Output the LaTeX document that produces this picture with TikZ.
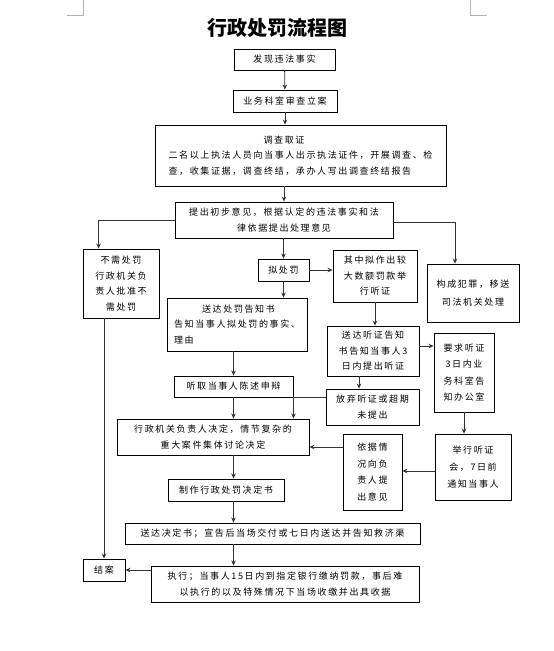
\documentclass[tikz,border=0pt]{standalone}
\usepackage{fontspec}
\setmainfont{Noto Sans CJK SC}[LetterSpace=18]
\newfontfamily\titlefont{Noto Sans CJK SC}
\usetikzlibrary{arrows.meta,calc}

\tikzset{
  flowbox/.style={draw=black, line width=0.9pt, inner sep=0pt, align=center,
    font=\fontsize{9}{15.5}\selectfont},
  flowarrow/.style={draw=black!80, line width=0.8pt, -{Stealth[length=5pt,width=4.5pt]}},
  cropmark/.style={draw=black!30, line width=0.6pt},
}

\begin{document}
\begin{tikzpicture}[x=1pt,y=-1pt]
  \useasboundingbox (0,0) rectangle (554,651);

  % Titel und Eckmarken
  \node (title) at (277,28) {\titlefont\fontsize{20}{24}\selectfont\bfseries 行政处罚流程图};
  \draw[cropmark] (83,0) -- (83,15) -- (67,15);
  \draw[cropmark] (470,0) -- (470,15) -- (487,15);

  % Kaesten
  \node[flowbox, minimum width=101pt, minimum height=21pt] (fact) at (284.5,59.5) {发现违法事实};
  \node[flowbox, minimum width=104pt, minimum height=22pt] (filing) at (285,101) {业务科室审查立案};
  \node[flowbox, minimum width=291pt, minimum height=61pt, align=left] (survey) at (300.5,155.5)
    {\hspace*{95pt}调查取证\\二名以上执法人员向当事人出示执法证件，开展调查、检\\查，收集证据，调查终结，承办人写出调查终结报告};
  \node[flowbox, minimum width=218pt, minimum height=36pt] (opinion) at (284,220)
    {提出初步意见，根据认定的违法事实和法\\律依据提出处理意见};
  \node[flowbox, minimum width=76pt, minimum height=69pt] (nopen) at (121,283.5)
    {不需处罚\\行政机关负\\责人批准不\\需处罚};
  \node[flowbox, minimum width=51pt, minimum height=22pt] (pen) at (283.5,270) {拟处罚};
  \node[flowbox, minimum width=84pt, minimum height=52pt] (large) at (375,276)
    {其中拟作出较\\大数额罚款举\\行听证};
  \node[flowbox, minimum width=92pt, minimum height=58pt,
    font=\fontsize{9}{18}\selectfont] (crime) at (473,293) {构成犯罪，移送\\司法机关处理};
  \node[flowbox, minimum width=140pt, minimum height=53pt, align=left] (notice) at (237,324.5)
    {\hspace*{28pt}送达处罚告知书\\告知当事人拟处罚的事实、\\理由};
  \node[flowbox, minimum width=92pt, minimum height=50pt] (hearnot) at (373,351)
    {送达听证告知\\书告知当事人3\\日内提出听证};
  \node[flowbox, minimum width=60pt, minimum height=79pt,
    font=\fontsize{9}{16.5}\selectfont] (request) at (464,372.5)
    {要求听证\\3日内业\\务科室告\\知办公室};
  \node[flowbox, minimum width=119pt, minimum height=21pt] (defense) at (233.5,386.5) {听取当事人陈述申辩};
  \node[flowbox, minimum width=93pt, minimum height=36pt] (waive) at (372.5,407)
    {放弃听证或超期\\未提出};
  \node[flowbox, minimum width=192pt, minimum height=36pt] (decide) at (213,437)
    {行政机关负责人决定，情节复杂的\\重大案件集体讨论决定};
  \node[flowbox, minimum width=76pt, minimum height=66pt,
    font=\fontsize{9}{17}\selectfont] (hold) at (473,467)
    {举行听证\\会，7日前\\通知当事人};
  \node[flowbox, minimum width=59pt, minimum height=76pt,
    font=\fontsize{9}{16.5}\selectfont] (report) at (372.5,472)
    {依据情\\况向负\\责人提\\出意见};
  \node[flowbox, minimum width=116pt, minimum height=22pt] (draft) at (226,490) {制作行政处罚决定书};
  \node[flowbox, minimum width=295pt, minimum height=21pt] (deliver) at (272.5,533.5)
    {送达决定书；宣告后当场交付或七日内送达并告知救济渠};
  \node[flowbox, minimum width=268pt, minimum height=36pt] (execute) at (285,584)
    {执行；当事人15日内到指定银行缴纳罚款，事后难\\以执行的以及特殊情况下当场收缴并出具收据};
  \node[flowbox, minimum width=42pt, minimum height=22pt] (close) at (104,570) {结案};

  % Pfeile
  \draw[flowarrow] (fact) -- (filing);
  \draw[flowarrow] (filing.south) -- (filing.south |- survey.north);
  \draw[flowarrow] (opinion.north |- survey.south) -- (opinion.north);
  \draw[flowarrow] (opinion.west) -| ($(nopen.north west)+(16,0)$);
  \draw[flowarrow] (pen.north |- opinion.south) -- (pen.north);
  \draw[flowarrow] ([yshift=-2pt]opinion.east) -| ($(crime.north)+(-18,0)$);
  \draw[flowarrow] (pen.east) -- (pen.east -| large.west);
  \draw[flowarrow] (pen.south) -- (pen.south |- notice.north);
  \draw[flowarrow] (large.south) -- (large.south |- hearnot.north);
  \draw[flowarrow] (defense.north |- notice.south) -- (defense.north);
  \draw[flowarrow] (defense.south) -- (defense.south |- decide.north);
  \draw[flowarrow] (waive.west |- defense.south east) -- (defense.south east) -- (defense.south east |- decide.north);
  \draw[flowarrow] ([xshift=-14pt]hearnot.south) -- ([xshift=-14pt]hearnot.south |- waive.north);
  \draw[flowarrow] ([yshift=5pt]hearnot.east) -- ([yshift=5pt]hearnot.east -| request.west);
  \draw[flowarrow] (request.south) -- (request.south |- hold.north);
  \draw[flowarrow] ([yshift=-4pt]hold.west) -- ([yshift=-4pt]hold.west -| report.east);
  \draw[flowarrow] ([yshift=-10pt]decide.east -| report.west) -- ([yshift=-10pt]decide.east);
  \draw[flowarrow] (defense.south |- decide.south) -- (defense.south |- draft.north);
  \draw[flowarrow] (defense.south |- draft.south) -- (defense.south |- deliver.north);
  \draw[flowarrow] (defense.south |- deliver.south) -- (defense.south |- execute.north);
  \draw[flowarrow] (close.east -| execute.west) -- (close.east);
  \draw[flowarrow] (close.north |- nopen.south) -- (close.north);
\end{tikzpicture}
\end{document}
